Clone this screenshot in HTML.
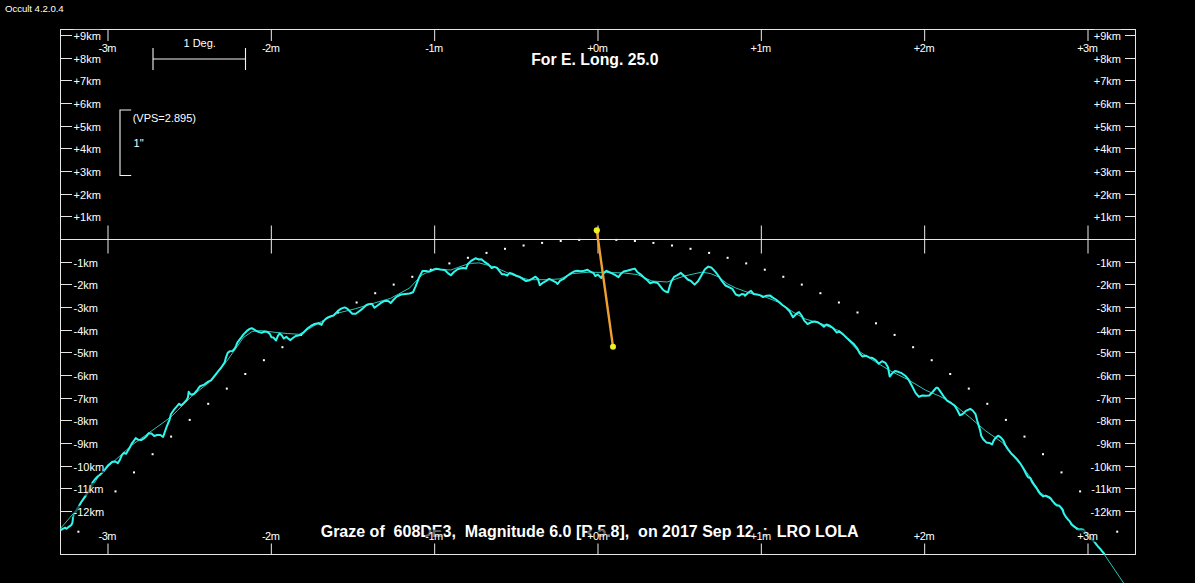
<!DOCTYPE html><html><head><meta charset="utf-8"><style>
html,body{margin:0;padding:0;background:#000;width:1195px;height:583px;overflow:hidden}
svg{display:block}
text{font-family:"Liberation Sans",sans-serif;fill:#fff}
.ax{font-size:11px}
.bd{font-size:16px;font-weight:bold}
.bt{font-size:15.8px;font-weight:bold}
</style></head><body>
<svg width="1195" height="583" viewBox="0 0 1195 583">
<rect x="0" y="0" width="1195" height="583" fill="#000"/>
<text x="5" y="12" style="font-size:9.7px;letter-spacing:-0.08px" fill="#fff">Occult 4.2.0.4</text>
<g><rect x="77.4" y="530.7" width="2" height="2" fill="#fff"/><rect x="95.9" y="510.2" width="2" height="2" fill="#fff"/><rect x="114.5" y="490.4" width="2" height="2" fill="#fff"/><rect x="133.0" y="471.4" width="2" height="2" fill="#fff"/><rect x="151.6" y="453.2" width="2" height="2" fill="#fff"/><rect x="170.1" y="435.6" width="2" height="2" fill="#fff"/><rect x="188.7" y="418.9" width="2" height="2" fill="#fff"/><rect x="207.2" y="402.8" width="2" height="2" fill="#fff"/><rect x="225.8" y="387.6" width="2" height="2" fill="#fff"/><rect x="244.3" y="373.0" width="2" height="2" fill="#fff"/><rect x="262.9" y="359.2" width="2" height="2" fill="#fff"/><rect x="281.4" y="346.2" width="2" height="2" fill="#fff"/><rect x="300.0" y="333.9" width="2" height="2" fill="#fff"/><rect x="318.5" y="322.3" width="2" height="2" fill="#fff"/><rect x="337.1" y="311.5" width="2" height="2" fill="#fff"/><rect x="355.6" y="301.5" width="2" height="2" fill="#fff"/><rect x="374.2" y="292.2" width="2" height="2" fill="#fff"/><rect x="392.7" y="283.6" width="2" height="2" fill="#fff"/><rect x="411.3" y="275.8" width="2" height="2" fill="#fff"/><rect x="429.8" y="268.7" width="2" height="2" fill="#fff"/><rect x="448.4" y="262.4" width="2" height="2" fill="#fff"/><rect x="466.9" y="256.8" width="2" height="2" fill="#fff"/><rect x="485.5" y="251.9" width="2" height="2" fill="#fff"/><rect x="504.0" y="247.8" width="2" height="2" fill="#fff"/><rect x="522.6" y="244.5" width="2" height="2" fill="#fff"/><rect x="541.1" y="241.9" width="2" height="2" fill="#fff"/><rect x="559.7" y="240.0" width="2" height="2" fill="#fff"/><rect x="578.2" y="238.9" width="2" height="2" fill="#fff"/><rect x="596.8" y="238.5" width="2" height="2" fill="#fff"/><rect x="615.3" y="238.9" width="2" height="2" fill="#fff"/><rect x="633.9" y="240.0" width="2" height="2" fill="#fff"/><rect x="652.4" y="241.9" width="2" height="2" fill="#fff"/><rect x="671.0" y="244.5" width="2" height="2" fill="#fff"/><rect x="689.5" y="247.8" width="2" height="2" fill="#fff"/><rect x="708.1" y="251.9" width="2" height="2" fill="#fff"/><rect x="726.6" y="256.8" width="2" height="2" fill="#fff"/><rect x="745.2" y="262.4" width="2" height="2" fill="#fff"/><rect x="763.8" y="268.7" width="2" height="2" fill="#fff"/><rect x="782.3" y="275.8" width="2" height="2" fill="#fff"/><rect x="800.8" y="283.6" width="2" height="2" fill="#fff"/><rect x="819.4" y="292.2" width="2" height="2" fill="#fff"/><rect x="837.9" y="301.5" width="2" height="2" fill="#fff"/><rect x="856.5" y="311.5" width="2" height="2" fill="#fff"/><rect x="875.0" y="322.3" width="2" height="2" fill="#fff"/><rect x="893.6" y="333.9" width="2" height="2" fill="#fff"/><rect x="912.1" y="346.2" width="2" height="2" fill="#fff"/><rect x="930.7" y="359.2" width="2" height="2" fill="#fff"/><rect x="949.2" y="373.0" width="2" height="2" fill="#fff"/><rect x="967.8" y="387.6" width="2" height="2" fill="#fff"/><rect x="986.3" y="402.8" width="2" height="2" fill="#fff"/><rect x="1004.9" y="418.9" width="2" height="2" fill="#fff"/><rect x="1023.5" y="435.6" width="2" height="2" fill="#fff"/><rect x="1042.0" y="453.2" width="2" height="2" fill="#fff"/><rect x="1060.5" y="471.4" width="2" height="2" fill="#fff"/><rect x="1079.1" y="490.4" width="2" height="2" fill="#fff"/><rect x="1097.7" y="510.2" width="2" height="2" fill="#fff"/><rect x="1116.2" y="530.7" width="2" height="2" fill="#fff"/></g>
<g stroke="#e6e6e6" stroke-width="1" fill="none" shape-rendering="crispEdges">
<rect x="60.5" y="29.5" width="1075.0" height="525.0"/>
<line x1="60.5" y1="239.5" x2="1135.5" y2="239.5"/>
<line x1="60" y1="216.5" x2="72" y2="216.5"/>
<line x1="1125" y1="216.5" x2="1136" y2="216.5"/>
<line x1="60" y1="194.5" x2="72" y2="194.5"/>
<line x1="1125" y1="194.5" x2="1136" y2="194.5"/>
<line x1="60" y1="171.5" x2="72" y2="171.5"/>
<line x1="1125" y1="171.5" x2="1136" y2="171.5"/>
<line x1="60" y1="148.5" x2="72" y2="148.5"/>
<line x1="1125" y1="148.5" x2="1136" y2="148.5"/>
<line x1="60" y1="126.5" x2="72" y2="126.5"/>
<line x1="1125" y1="126.5" x2="1136" y2="126.5"/>
<line x1="60" y1="103.5" x2="72" y2="103.5"/>
<line x1="1125" y1="103.5" x2="1136" y2="103.5"/>
<line x1="60" y1="80.5" x2="72" y2="80.5"/>
<line x1="1125" y1="80.5" x2="1136" y2="80.5"/>
<line x1="60" y1="58.5" x2="72" y2="58.5"/>
<line x1="1125" y1="58.5" x2="1136" y2="58.5"/>
<line x1="60" y1="35.5" x2="72" y2="35.5"/>
<line x1="1125" y1="35.5" x2="1136" y2="35.5"/>
<line x1="60" y1="262.5" x2="72" y2="262.5"/>
<line x1="1125" y1="262.5" x2="1136" y2="262.5"/>
<line x1="60" y1="284.5" x2="72" y2="284.5"/>
<line x1="1125" y1="284.5" x2="1136" y2="284.5"/>
<line x1="60" y1="307.5" x2="72" y2="307.5"/>
<line x1="1125" y1="307.5" x2="1136" y2="307.5"/>
<line x1="60" y1="330.5" x2="72" y2="330.5"/>
<line x1="1125" y1="330.5" x2="1136" y2="330.5"/>
<line x1="60" y1="352.5" x2="72" y2="352.5"/>
<line x1="1125" y1="352.5" x2="1136" y2="352.5"/>
<line x1="60" y1="375.5" x2="72" y2="375.5"/>
<line x1="1125" y1="375.5" x2="1136" y2="375.5"/>
<line x1="60" y1="398.5" x2="72" y2="398.5"/>
<line x1="1125" y1="398.5" x2="1136" y2="398.5"/>
<line x1="60" y1="420.5" x2="72" y2="420.5"/>
<line x1="1125" y1="420.5" x2="1136" y2="420.5"/>
<line x1="60" y1="443.5" x2="72" y2="443.5"/>
<line x1="1125" y1="443.5" x2="1136" y2="443.5"/>
<line x1="60" y1="466.5" x2="72" y2="466.5"/>
<line x1="1125" y1="466.5" x2="1136" y2="466.5"/>
<line x1="60" y1="488.5" x2="72" y2="488.5"/>
<line x1="1125" y1="488.5" x2="1136" y2="488.5"/>
<line x1="60" y1="511.5" x2="72" y2="511.5"/>
<line x1="1125" y1="511.5" x2="1136" y2="511.5"/>
</g>
<g stroke="#ececec" stroke-width="1">
<line x1="108.00" y1="29" x2="108.00" y2="41"/>
<line x1="108.00" y1="543.5" x2="108.00" y2="555"/>
<line x1="108.00" y1="225.5" x2="108.00" y2="253.5"/>
<line x1="271.33" y1="29" x2="271.33" y2="41"/>
<line x1="271.33" y1="543.5" x2="271.33" y2="555"/>
<line x1="271.33" y1="225.5" x2="271.33" y2="253.5"/>
<line x1="434.67" y1="29" x2="434.67" y2="41"/>
<line x1="434.67" y1="543.5" x2="434.67" y2="555"/>
<line x1="434.67" y1="225.5" x2="434.67" y2="253.5"/>
<line x1="598.00" y1="29" x2="598.00" y2="41"/>
<line x1="598.00" y1="543.5" x2="598.00" y2="555"/>
<line x1="598.00" y1="225.5" x2="598.00" y2="253.5"/>
<line x1="761.33" y1="29" x2="761.33" y2="41"/>
<line x1="761.33" y1="543.5" x2="761.33" y2="555"/>
<line x1="761.33" y1="225.5" x2="761.33" y2="253.5"/>
<line x1="924.67" y1="29" x2="924.67" y2="41"/>
<line x1="924.67" y1="543.5" x2="924.67" y2="555"/>
<line x1="924.67" y1="225.5" x2="924.67" y2="253.5"/>
<line x1="1088.00" y1="29" x2="1088.00" y2="41"/>
<line x1="1088.00" y1="543.5" x2="1088.00" y2="555"/>
<line x1="1088.00" y1="225.5" x2="1088.00" y2="253.5"/>
</g>
<path d="M60.5 528.5 L73.6 513.2 L85.6 497.0 L100.0 474.0 L131.6 445.3 L165.9 420.6 L172.3 415.7 L177.7 410.2 L184.6 403.3 L191.5 396.5 L200.0 389.6 L209.3 382.2 L226.5 361.5 L243.6 337.4 L252.2 331.4 L260.8 330.6 L275.0 332.3 L287.2 333.5 L299.2 334.3 L321.5 321.5 L338.6 312.9 L355.8 308.6 L370.0 304.3 L390.7 298.3 L409.6 288.0 L421.6 275.2 L433.6 269.2 L450.8 270.0 L465.0 264.9 L470.3 263.4 L478.9 262.9 L494.3 266.9 L511.5 274.6 L528.6 279.7 L545.8 279.7 L560.0 278.9 L572.2 273.6 L589.3 272.2 L606.5 272.5 L623.6 272.9 L637.3 274.6 L652.0 281.0 L667.2 282.0 L684.3 276.0 L701.5 272.2 L710.0 273.4 L718.6 276.9 L727.2 283.7 L735.8 288.0 L750.0 293.2 L762.2 295.7 L779.3 302.6 L793.0 312.0 L805.0 318.9 L822.2 324.0 L840.0 331.1 L857.2 350.0 L874.3 361.2 L891.5 371.5 L908.6 380.0 L925.8 390.3 L940.0 396.3 L952.2 403.2 L969.3 416.9 L985.3 430.6 L995.6 437.8 L1002.8 442.9 L1005.9 447.0 L1013.0 456.0 L1020.0 463.8 L1025.0 470.0 L1030.0 477.0 L1035.0 484.8 L1040.0 492.3 L1045.0 496.2 L1050.0 498.8 L1055.0 503.0 L1060.0 507.0 L1065.0 515.3 L1070.0 521.5 L1075.0 526.8 L1079.2 528.8 L1095.0 542.7 L1104.0 554.0 L1123.6 583.0" fill="none" stroke="#28c6b6" stroke-width="1"/>
<path d="M60.5 530.0 L62.8 528.8 L65.2 527.6 L66.4 528.8 L69.4 526.4 L71.2 525.2 L72.4 522.8 L73.0 518.0 L74.2 514.4 L76.0 511.4 L79.0 506.0 L81.4 501.8 L83.8 498.2 L86.2 494.6 L88.6 491.0 L92.8 482.0 L95.2 479.0 L98.2 476.0 L100.0 474.8 L104.1 470.7 L108.2 465.2 L112.3 461.7 L115.1 461.5 L117.8 463.1 L119.9 459.7 L122.0 454.9 L124.0 452.8 L126.1 453.8 L127.4 451.5 L129.5 448.0 L131.6 443.9 L133.6 441.2 L135.7 438.1 L138.4 439.8 L141.2 440.1 L143.9 438.4 L146.7 436.0 L148.7 433.2 L151.5 433.6 L154.2 436.0 L157.0 435.0 L160.4 435.0 L163.1 437.0 L164.5 432.9 L166.6 426.8 L168.6 422.0 L169.5 420.0 L170.9 414.3 L173.6 410.2 L177.1 406.1 L179.1 403.7 L181.2 405.4 L183.9 403.0 L186.7 399.9 L188.0 397.2 L188.7 391.7 L190.1 393.7 L191.5 394.8 L194.2 393.7 L197.0 390.3 L200.0 386.2 L204.2 384.6 L207.6 382.0 L211.0 380.3 L214.5 376.0 L217.9 371.7 L221.3 367.5 L224.7 362.3 L225.7 358.4 L227.7 352.9 L229.8 351.2 L232.5 350.9 L234.6 348.8 L236.0 346.1 L237.3 342.6 L239.4 339.9 L241.5 337.2 L243.5 334.4 L245.6 332.3 L247.6 330.3 L249.7 328.9 L251.8 328.2 L253.8 329.3 L255.9 330.6 L258.3 331.9 L261.6 332.7 L264.9 331.5 L267.3 331.9 L269.8 333.9 L271.5 337.2 L273.5 337.6 L276.0 340.5 L278.0 335.6 L279.7 333.5 L281.7 335.2 L283.8 338.5 L286.3 336.8 L288.7 338.9 L290.4 340.1 L292.9 338.0 L295.7 336.0 L299.2 335.2 L301.7 334.3 L304.3 331.8 L307.7 328.3 L311.2 325.7 L314.6 324.0 L318.0 323.2 L321.5 324.9 L323.2 321.5 L325.7 318.9 L328.3 317.2 L330.9 316.3 L333.5 315.5 L336.0 312.9 L338.6 310.3 L341.2 308.6 L344.6 307.4 L347.2 308.6 L349.8 311.2 L352.3 313.7 L355.8 313.7 L359.2 311.2 L362.6 308.6 L366.1 305.2 L368.4 304.3 L371.9 303.8 L374.4 307.8 L377.9 305.2 L381.3 302.6 L384.7 300.9 L388.2 300.9 L390.7 303.1 L393.3 300.0 L396.7 296.6 L401.0 294.5 L405.3 294.0 L409.6 293.5 L413.0 292.3 L415.6 286.3 L419.0 277.7 L422.5 270.9 L425.9 270.9 L429.3 271.7 L432.8 270.0 L436.2 268.8 L440.5 269.5 L444.8 270.0 L448.2 273.4 L450.8 275.2 L454.2 271.7 L457.6 269.2 L461.1 268.3 L463.4 268.1 L466.0 268.6 L467.7 264.3 L471.1 260.9 L475.4 258.3 L478.9 259.5 L481.4 259.2 L484.9 262.2 L488.3 264.3 L491.7 268.1 L494.3 266.9 L496.9 267.7 L499.5 271.2 L502.0 274.3 L504.6 274.3 L507.2 275.5 L509.7 272.9 L512.3 273.7 L515.7 275.5 L519.2 276.7 L522.6 278.9 L526.0 281.1 L528.6 280.6 L532.0 278.9 L535.5 276.7 L538.0 278.9 L539.8 285.2 L542.3 283.2 L545.8 281.1 L549.2 278.9 L552.6 280.6 L556.1 282.3 L557.6 284.0 L560.1 280.6 L563.6 278.9 L567.0 276.0 L570.4 273.7 L573.9 271.5 L577.3 270.8 L580.7 271.2 L584.2 270.8 L587.6 269.8 L591.0 272.0 L593.6 273.2 L595.3 276.0 L597.9 274.6 L601.3 278.0 L603.9 272.9 L606.5 270.8 L609.0 272.0 L612.5 273.7 L615.0 274.9 L618.5 277.2 L621.0 273.7 L623.6 271.5 L627.0 270.8 L630.5 269.8 L634.8 268.6 L637.3 272.0 L640.8 274.6 L644.2 277.7 L647.6 280.6 L650.2 283.2 L653.4 282.0 L657.7 282.9 L660.3 286.3 L662.9 289.7 L665.4 291.5 L668.0 292.3 L669.7 286.3 L671.4 281.2 L674.0 276.9 L677.4 275.2 L680.9 272.9 L684.3 276.0 L687.7 279.5 L691.2 281.2 L694.6 284.6 L698.0 281.2 L701.5 275.2 L704.9 269.2 L708.3 266.6 L711.7 267.8 L715.2 271.7 L718.6 276.0 L722.0 281.2 L725.5 285.5 L728.9 287.2 L732.3 288.9 L735.8 294.5 L739.2 295.7 L741.8 294.0 L744.3 294.5 L745.0 295.7 L747.6 293.2 L751.0 290.9 L753.6 294.0 L757.0 294.4 L760.4 295.4 L763.0 297.1 L766.4 295.7 L769.9 295.4 L772.4 297.4 L775.9 299.5 L779.3 302.2 L782.7 305.2 L786.2 307.7 L789.6 311.2 L793.0 317.2 L796.5 313.7 L799.0 312.0 L801.6 315.5 L804.2 320.6 L807.6 324.0 L811.0 322.3 L814.5 321.5 L817.9 322.3 L821.3 324.5 L823.9 326.6 L826.5 324.5 L829.9 325.7 L833.3 328.3 L836.8 332.6 L839.3 331.4 L843.4 334.6 L846.9 338.0 L850.3 340.9 L853.7 344.0 L857.2 348.3 L859.7 353.4 L862.3 356.4 L865.7 355.7 L869.2 357.4 L872.6 358.1 L876.0 360.3 L878.6 363.7 L882.0 361.2 L885.5 362.9 L888.0 367.2 L889.7 376.6 L892.3 373.2 L894.9 371.1 L898.3 371.8 L901.7 373.2 L905.2 375.7 L908.6 379.7 L912.0 386.0 L915.5 392.9 L918.9 396.8 L922.3 395.5 L925.8 395.8 L929.2 395.5 L932.6 392.0 L936.1 387.8 L937.6 387.7 L940.1 391.1 L943.6 396.3 L947.0 400.6 L951.3 403.2 L954.7 405.7 L957.3 410.0 L959.9 415.2 L962.4 414.3 L965.9 410.9 L970.2 408.8 L972.7 410.5 L975.5 414.1 L977.1 420.3 L978.6 425.4 L980.1 430.1 L981.2 435.7 L983.2 439.3 L986.3 442.4 L989.4 442.9 L992.0 444.5 L993.5 440.9 L995.6 437.8 L998.1 435.7 L1000.7 437.3 L1003.3 440.3 L1005.3 445.0 L1007.9 449.1 L1011.0 453.2 L1014.1 456.3 L1017.2 459.4 L1020.3 463.5 L1022.8 467.6 L1024.3 470.3 L1026.4 474.6 L1028.1 477.2 L1030.3 478.0 L1032.0 481.9 L1034.6 485.7 L1037.2 489.2 L1038.9 492.2 L1040.6 494.3 L1043.2 496.4 L1045.7 495.6 L1048.7 496.9 L1050.9 498.6 L1052.6 501.2 L1054.7 503.7 L1056.9 505.5 L1059.0 505.5 L1061.2 507.6 L1062.9 510.0 L1063.8 513.4 L1065.8 516.8 L1067.7 519.2 L1069.6 521.1 L1071.5 524.5 L1073.9 526.4 L1076.3 528.3 L1078.7 529.8 L1081.1 529.3 L1083.5 529.8 L1089.0 536.0 L1095.0 542.7 L1096.5 544.6 L1098.4 547.0 L1100.3 548.9 L1102.2 551.3 L1104.1 553.7 L1104.6 554.6" fill="none" stroke="#2ef8ee" stroke-width="2" stroke-linejoin="round"/>
<g stroke="#f4f4f4" stroke-width="1.1" fill="none">
<line x1="153" y1="48" x2="153" y2="70"/><line x1="245.5" y1="48" x2="245.5" y2="70"/><line x1="153" y1="59" x2="245.5" y2="59"/>
<polyline points="131.2,110 120,110 120,175.5 131.2,175.5"/>
</g>
<text class="ax" x="183.5" y="46.7">1 Deg.</text>
<text class="ax" x="132.7" y="122">(VPS=2.895)</text>
<text class="ax" x="133.6" y="146.6">1"</text>
<line x1="596.8" y1="230.3" x2="613" y2="346.8" stroke="#f0a030" stroke-width="2.4"/>
<circle cx="596.8" cy="230.3" r="3.1" fill="#f0f020"/>
<circle cx="613" cy="346.8" r="3.0" fill="#f0f020"/>
<text class="bt" x="531.2" y="65">For E. Long. 25.0</text>
<text class="bd" x="320.7" y="536.8" xml:space="preserve">Graze of  608DE3,  Magnitude 6.0 [R 5.8],  on 2017 Sep 12  :  LRO LOLA</text>
<g fill="#000" fill-opacity="0.6"><rect x="73.60" y="211.13" width="27.20" height="12.50"/><rect x="1093.80" y="211.13" width="27.20" height="12.50"/><rect x="73.60" y="188.47" width="27.20" height="12.50"/><rect x="1093.80" y="188.47" width="27.20" height="12.50"/><rect x="73.60" y="165.80" width="27.20" height="12.50"/><rect x="1093.80" y="165.80" width="27.20" height="12.50"/><rect x="73.60" y="143.13" width="27.20" height="12.50"/><rect x="1093.80" y="143.13" width="27.20" height="12.50"/><rect x="73.60" y="120.47" width="27.20" height="12.50"/><rect x="1093.80" y="120.47" width="27.20" height="12.50"/><rect x="73.60" y="97.80" width="27.20" height="12.50"/><rect x="1093.80" y="97.80" width="27.20" height="12.50"/><rect x="73.60" y="75.13" width="27.20" height="12.50"/><rect x="1093.80" y="75.13" width="27.20" height="12.50"/><rect x="73.60" y="52.47" width="27.20" height="12.50"/><rect x="1093.80" y="52.47" width="27.20" height="12.50"/><rect x="73.60" y="29.80" width="27.20" height="12.50"/><rect x="1093.80" y="29.80" width="27.20" height="12.50"/><rect x="73.60" y="256.47" width="24.44" height="12.50"/><rect x="1096.56" y="256.47" width="24.44" height="12.50"/><rect x="73.60" y="279.13" width="24.44" height="12.50"/><rect x="1096.56" y="279.13" width="24.44" height="12.50"/><rect x="73.60" y="301.80" width="24.44" height="12.50"/><rect x="1096.56" y="301.80" width="24.44" height="12.50"/><rect x="73.60" y="324.47" width="24.44" height="12.50"/><rect x="1096.56" y="324.47" width="24.44" height="12.50"/><rect x="73.60" y="347.13" width="24.44" height="12.50"/><rect x="1096.56" y="347.13" width="24.44" height="12.50"/><rect x="73.60" y="369.80" width="24.44" height="12.50"/><rect x="1096.56" y="369.80" width="24.44" height="12.50"/><rect x="73.60" y="392.47" width="24.44" height="12.50"/><rect x="1096.56" y="392.47" width="24.44" height="12.50"/><rect x="73.60" y="415.13" width="24.44" height="12.50"/><rect x="1096.56" y="415.13" width="24.44" height="12.50"/><rect x="73.60" y="437.80" width="24.44" height="12.50"/><rect x="1096.56" y="437.80" width="24.44" height="12.50"/><rect x="73.60" y="460.47" width="30.56" height="12.50"/><rect x="1090.44" y="460.47" width="30.56" height="12.50"/><rect x="73.60" y="483.13" width="29.75" height="12.50"/><rect x="1091.25" y="483.13" width="29.75" height="12.50"/><rect x="73.60" y="505.80" width="30.56" height="12.50"/><rect x="1090.44" y="505.80" width="30.56" height="12.50"/><rect x="98.53" y="41.80" width="18.94" height="12.50"/><rect x="98.53" y="529.60" width="18.94" height="12.50"/><rect x="261.86" y="41.80" width="18.94" height="12.50"/><rect x="261.86" y="529.60" width="18.94" height="12.50"/><rect x="425.19" y="41.80" width="18.94" height="12.50"/><rect x="425.19" y="529.60" width="18.94" height="12.50"/><rect x="587.15" y="41.80" width="21.70" height="12.50"/><rect x="587.15" y="529.60" width="21.70" height="12.50"/><rect x="750.48" y="41.80" width="21.70" height="12.50"/><rect x="750.48" y="529.60" width="21.70" height="12.50"/><rect x="913.81" y="41.80" width="21.70" height="12.50"/><rect x="913.81" y="529.60" width="21.70" height="12.50"/><rect x="1077.15" y="41.80" width="21.70" height="12.50"/><rect x="1077.15" y="529.60" width="21.70" height="12.50"/></g>
<text class="ax" x="73.6" y="221.1">+1km</text><text class="ax" x="1121" y="221.1" text-anchor="end">+1km</text><text class="ax" x="73.6" y="198.5">+2km</text><text class="ax" x="1121" y="198.5" text-anchor="end">+2km</text><text class="ax" x="73.6" y="175.8">+3km</text><text class="ax" x="1121" y="175.8" text-anchor="end">+3km</text><text class="ax" x="73.6" y="153.1">+4km</text><text class="ax" x="1121" y="153.1" text-anchor="end">+4km</text><text class="ax" x="73.6" y="130.5">+5km</text><text class="ax" x="1121" y="130.5" text-anchor="end">+5km</text><text class="ax" x="73.6" y="107.8">+6km</text><text class="ax" x="1121" y="107.8" text-anchor="end">+6km</text><text class="ax" x="73.6" y="85.1">+7km</text><text class="ax" x="1121" y="85.1" text-anchor="end">+7km</text><text class="ax" x="73.6" y="62.5">+8km</text><text class="ax" x="1121" y="62.5" text-anchor="end">+8km</text><text class="ax" x="73.6" y="39.8">+9km</text><text class="ax" x="1121" y="39.8" text-anchor="end">+9km</text><text class="ax" x="73.6" y="266.5">-1km</text><text class="ax" x="1121" y="266.5" text-anchor="end">-1km</text><text class="ax" x="73.6" y="289.1">-2km</text><text class="ax" x="1121" y="289.1" text-anchor="end">-2km</text><text class="ax" x="73.6" y="311.8">-3km</text><text class="ax" x="1121" y="311.8" text-anchor="end">-3km</text><text class="ax" x="73.6" y="334.5">-4km</text><text class="ax" x="1121" y="334.5" text-anchor="end">-4km</text><text class="ax" x="73.6" y="357.1">-5km</text><text class="ax" x="1121" y="357.1" text-anchor="end">-5km</text><text class="ax" x="73.6" y="379.8">-6km</text><text class="ax" x="1121" y="379.8" text-anchor="end">-6km</text><text class="ax" x="73.6" y="402.5">-7km</text><text class="ax" x="1121" y="402.5" text-anchor="end">-7km</text><text class="ax" x="73.6" y="425.1">-8km</text><text class="ax" x="1121" y="425.1" text-anchor="end">-8km</text><text class="ax" x="73.6" y="447.8">-9km</text><text class="ax" x="1121" y="447.8" text-anchor="end">-9km</text><text class="ax" x="73.6" y="470.5">-10km</text><text class="ax" x="1121" y="470.5" text-anchor="end">-10km</text><text class="ax" x="73.6" y="493.1">-11km</text><text class="ax" x="1121" y="493.1" text-anchor="end">-11km</text><text class="ax" x="73.6" y="515.8">-12km</text><text class="ax" x="1121" y="515.8" text-anchor="end">-12km</text><text class="ax" x="107.30" y="51.8" text-anchor="middle" letter-spacing="-0.5">-3m</text><text class="ax" x="107.30" y="539.6" text-anchor="middle" letter-spacing="-0.5">-3m</text><text class="ax" x="270.63" y="51.8" text-anchor="middle" letter-spacing="-0.5">-2m</text><text class="ax" x="270.63" y="539.6" text-anchor="middle" letter-spacing="-0.5">-2m</text><text class="ax" x="433.97" y="51.8" text-anchor="middle" letter-spacing="-0.5">-1m</text><text class="ax" x="433.97" y="539.6" text-anchor="middle" letter-spacing="-0.5">-1m</text><text class="ax" x="597.30" y="51.8" text-anchor="middle" letter-spacing="-0.5">+0m</text><text class="ax" x="597.30" y="539.6" text-anchor="middle" letter-spacing="-0.5">+0m</text><text class="ax" x="760.63" y="51.8" text-anchor="middle" letter-spacing="-0.5">+1m</text><text class="ax" x="760.63" y="539.6" text-anchor="middle" letter-spacing="-0.5">+1m</text><text class="ax" x="923.97" y="51.8" text-anchor="middle" letter-spacing="-0.5">+2m</text><text class="ax" x="923.97" y="539.6" text-anchor="middle" letter-spacing="-0.5">+2m</text><text class="ax" x="1087.30" y="51.8" text-anchor="middle" letter-spacing="-0.5">+3m</text><text class="ax" x="1087.30" y="539.6" text-anchor="middle" letter-spacing="-0.5">+3m</text>
</svg></body></html>
